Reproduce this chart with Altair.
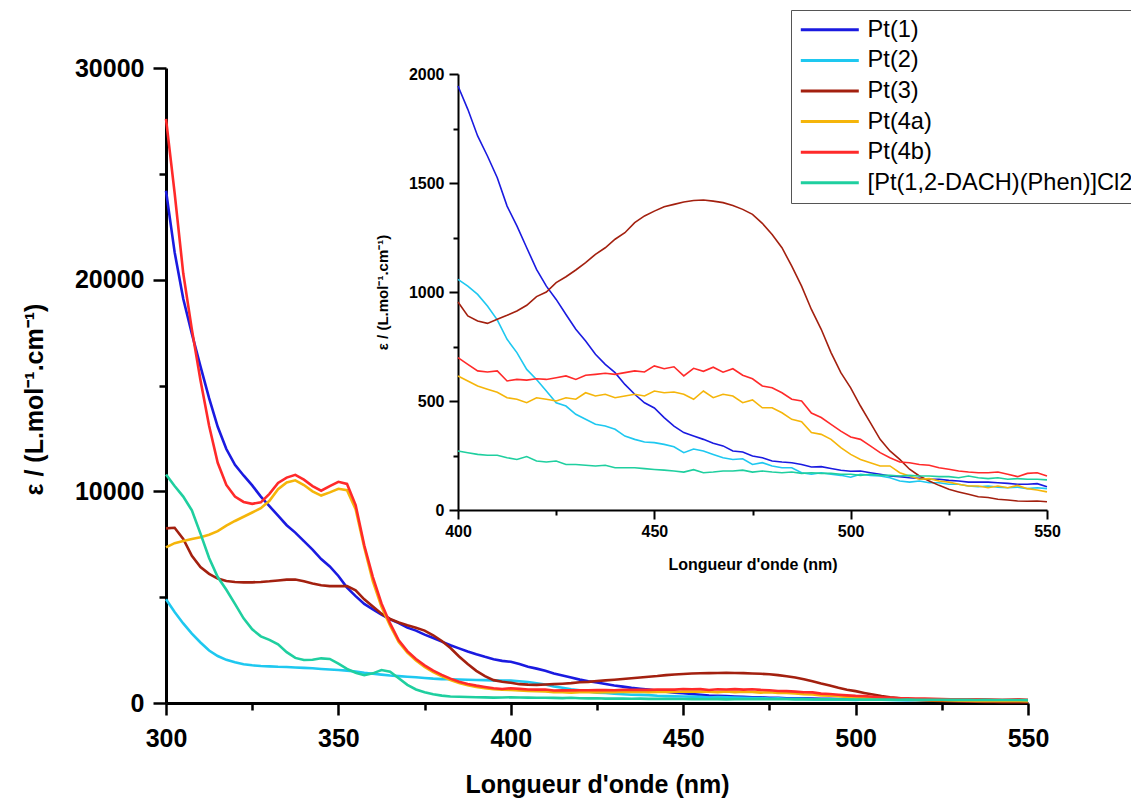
import altair as alt
import pandas as pd

wavelength = [300, 302.5, 305, 307.5, 310, 312.5, 315, 317.5, 320, 322.5,
              325, 327.5, 330, 332.5, 335, 337.5, 340, 342.5, 345, 347.5,
              350, 352.5, 355, 357.5, 360, 362.5, 365, 367.5, 370, 372.5,
              375, 377.5, 380, 382.5, 385, 387.5, 390, 392.5, 395, 397.5,
              400, 402.5, 405, 407.5, 410, 412.5, 415, 417.5, 420, 422.5,
              425, 427.5, 430, 432.5, 435, 437.5, 440, 442.5, 445, 447.5,
              450, 452.5, 455, 457.5, 460, 462.5, 465, 467.5, 470, 472.5,
              475, 477.5, 480, 482.5, 485, 487.5, 490, 492.5, 495, 497.5,
              500, 502.5, 505, 507.5, 510, 512.5, 515, 517.5, 520, 522.5,
              525, 527.5, 530, 532.5, 535, 537.5, 540, 542.5, 545, 547.5,
              550]

series_names = ["Pt(1)", "Pt(2)", "Pt(3)", "Pt(4a)", "Pt(4b)", "[Pt(1,2-DACH)(Phen)]Cl2"]
series_colors = ["#1a1ae0", "#1ec8f0", "#a3200f", "#f5b50a", "#ff2a2a", "#1fcf9f"]

pt1 = [24200, 21300, 19100, 17450, 15900, 14400, 13050, 12000, 11250, 10750,
       10280, 9750, 9300, 8850, 8400, 8050, 7650, 7250, 6800, 6450,
       6000, 5450, 5050, 4680, 4420, 4180, 3950, 3780, 3560, 3420,
       3230, 3070, 2900, 2730, 2580, 2430, 2300, 2180, 2070, 1990,
       1945, 1838, 1716, 1624, 1524, 1394, 1303, 1203, 1104, 1027,
       966, 897, 829, 775, 714, 668, 630, 576, 531, 492,
       468, 424, 385, 355, 339, 324, 306, 294, 271, 266,
       248, 240, 225, 220, 217, 209, 197, 199, 190, 182,
       178, 179, 171, 164, 156, 153, 148, 145, 141, 141,
       136, 133, 128, 128, 128, 125, 122, 118, 118, 121,
       107]

pt2 = [4900, 4300, 3760, 3280, 2860, 2480, 2220, 2040, 1920, 1830,
       1780, 1750, 1730, 1710, 1700, 1680, 1660, 1640, 1610, 1585,
       1560, 1530, 1490, 1430, 1380, 1340, 1300, 1270, 1240, 1215,
       1180, 1150, 1130, 1120, 1110, 1100, 1090, 1080, 1070, 1065,
       1058, 1027, 989, 936, 872, 783, 722, 645, 599, 546,
       492, 477, 439, 416, 393, 385, 370, 339, 324, 312,
       309, 301, 290, 263, 280, 271, 255, 240, 232, 235,
       209, 217, 202, 194, 194, 171, 164, 171, 164, 159,
       150, 164, 159, 156, 148, 133, 128, 133, 125, 125,
       118, 118, 110, 107, 110, 105, 102, 105, 98, 102,
       98]

pt3 = [8250, 8280, 7750, 6950, 6420, 6100, 5880, 5760, 5720, 5700,
       5700, 5720, 5750, 5790, 5830, 5830, 5750, 5650, 5560, 5520,
       5520, 5520, 5320, 4900, 4560, 4220, 3970, 3800, 3670, 3550,
       3420, 3200, 2930, 2600, 2200, 1840, 1520, 1270, 1080, 1000,
       954, 890, 867, 856, 875, 893, 913, 939, 979, 1000,
       1043, 1070, 1101, 1135, 1173, 1203, 1242, 1272, 1318, 1349,
       1371, 1391, 1402, 1413, 1420, 1422, 1417, 1410, 1397, 1379,
       1356, 1315, 1264, 1203, 1119, 1027, 920, 829, 722, 630,
       560, 477, 401, 324, 271, 232, 187, 156, 133, 113,
       95, 83, 72, 61, 57, 49, 46, 41, 40, 41,
       38]

pt4a = [7350, 7550, 7650, 7750, 7830, 7950, 8120, 8380, 8600, 8800,
        9000, 9200, 9550, 10100, 10420, 10520, 10300, 10000, 9800, 9950,
        10120, 10050, 9150, 7350, 5750, 4550, 3650, 2880, 2380, 2010,
        1700, 1460, 1260, 1080, 940, 840, 760, 700, 650, 625,
        615, 592, 569, 554, 540, 515, 508, 492, 515, 508,
        500, 515, 508, 538, 523, 531, 515, 523, 531, 523,
        546, 538, 541, 531, 508, 546, 515, 531, 523, 492,
        505, 469, 469, 446, 416, 405, 355, 347, 324, 286,
        255, 232, 217, 202, 202, 171, 156, 141, 144, 133,
        128, 118, 110, 110, 102, 110, 102, 113, 98, 92,
        83]

pt4b = [27600, 24100, 20300, 17650, 15250, 13100, 11350, 10300, 9750, 9500,
        9410, 9480, 9880, 10400, 10650, 10780, 10550, 10250, 10030, 10250,
        10450, 10350, 9350, 7450, 5950, 4700, 3760, 2960, 2450, 2080,
        1780, 1530, 1330, 1150, 1000, 900, 820, 760, 700, 660,
        699, 668, 638, 633, 638, 592, 599, 596, 602, 599,
        607, 615, 599, 618, 622, 627, 622, 630, 638, 633,
        661, 648, 657, 615, 650, 636, 655, 632, 648, 618,
        602, 569, 561, 538, 508, 500, 445, 424, 393, 362,
        335, 324, 294, 263, 240, 220, 217, 209, 205, 194,
        187, 179, 174, 171, 171, 174, 164, 153, 168, 171,
        156]

dach = [10800, 10250, 9750, 9100, 8000, 6850, 5950, 5350, 4680, 4000,
        3480, 3150, 2980, 2770, 2400, 2130, 2030, 2040, 2110, 2080,
        1860, 1610, 1430, 1310, 1400, 1560, 1480, 1170, 860, 640,
        510, 410, 350, 310, 295, 285, 275, 265, 255, 260,
        271, 263, 255, 251, 251, 240, 232, 245, 225, 220,
        225, 209, 209, 205, 202, 205, 194, 194, 194, 190,
        186, 183, 179, 174, 185, 171, 174, 179, 179, 183,
        174, 179, 174, 171, 174, 168, 171, 168, 168, 164,
        164, 159, 164, 159, 159, 156, 159, 156, 156, 153,
        153, 148, 156, 148, 144, 148, 141, 144, 141, 141,
        138]

main_x_ticks = [300, 350, 400, 450, 500, 550]
main_x_minor = [325, 375, 425, 475, 525]
main_y_ticks = [0, 10000, 20000, 30000]
main_y_minor = [5000, 15000, 25000]
inset_x_ticks = [400, 450, 500, 550]
inset_x_minor = [425, 475, 525]
inset_y_ticks = [0, 500, 1000, 1500, 2000]
inset_y_minor = [250, 750, 1250, 1750]

rows = []
for name, arr in zip(series_names, [pt1, pt2, pt3, pt4a, pt4b, dach]):
    for w, v in zip(wavelength, arr):
        rows.append({"wl": w, "val": v, "series": name})
df = pd.DataFrame(rows)

FONT = "Liberation Sans"
Y_TITLE = "ε / (L.mol⁻¹.cm⁻¹)"
X_TITLE = "Longueur d'onde (nm)"


def ax(**kw):
    base = dict(grid=False, domainColor="black", tickColor="black", labelColor="black",
                titleColor="black", labelFont=FONT, titleFont=FONT, labelFontWeight="bold",
                titleFontWeight="bold", labelFlush=False, labelOverlap=False)
    base.update(kw)
    return alt.Axis(**base)


def minor(**kw):
    base = dict(grid=False, labels=False, domain=False, tickColor="black", title=None)
    base.update(kw)
    return alt.Axis(**base)


color = alt.Color(
    "series:N",
    sort=series_names,
    scale=alt.Scale(domain=series_names, range=series_colors),
    legend=alt.Legend(
        orient="none", legendX=625, legendY=-58, title=None,
        symbolType="M-1,0H4.8", symbolSize=400, symbolStrokeWidth=3,
        labelOffset=45, labelFont=FONT, labelFontSize=23.6, labelColor="black",
        labelLimit=500, rowPadding=5.6, padding=8, strokeColor="#555555",
        fillColor="white",
    ),
)

main_xs = alt.Scale(domain=[300, 550], nice=False, zero=False)
main_ys = alt.Scale(domain=[0, 30000], nice=False)
inset_xs = alt.Scale(domain=[400, 550], nice=False, zero=False, range=[292, 881])
inset_ys = alt.Scale(domain=[0, 2000], nice=False, range=[442, 6])

main = alt.Chart(df).mark_line(strokeWidth=2.6).encode(
    x=alt.X("wl:Q", scale=main_xs, axis=ax(
        orient="bottom", values=main_x_ticks, format="d", labelFontSize=25,
        tickSize=12, tickWidth=2.5, domainWidth=3, labelPadding=11,
        title=X_TITLE, titleFontSize=25, titleY=81, titleBaseline="middle")),
    y=alt.Y("val:Q", scale=main_ys, axis=ax(
        orient="left", values=main_y_ticks, format="d", labelFontSize=25,
        tickSize=13, tickWidth=2.5, domainWidth=3, labelPadding=9,
        title=Y_TITLE, titleFontSize=25, titleX=-132, titleY=331,
        titleBaseline="middle")),
    color=color,
)

main_minor = alt.Chart(df).mark_line(opacity=0).encode(
    x=alt.X("wl:Q", scale=main_xs, axis=minor(orient="bottom", values=main_x_minor,
                                               tickSize=7, tickWidth=2.5)),
    y=alt.Y("val:Q", scale=main_ys, axis=minor(orient="left", values=main_y_minor,
                                                tickSize=7, tickWidth=2.5)),
    detail="series:N",
)

inset_data = alt.Chart(df).transform_filter(alt.datum.wl >= 400)

inset = inset_data.mark_line(strokeWidth=1.6).encode(
    x=alt.X("wl:Q", scale=inset_xs, axis=ax(
        orient="bottom", offset=-193, values=inset_x_ticks, format="d",
        labelFontSize=16, tickSize=9, tickWidth=2, domainWidth=2, labelPadding=4,
        title=X_TITLE, titleFontSize=16, titlePadding=17)),
    y=alt.Y("val:Q", scale=inset_ys, axis=ax(
        orient="left", offset=-292, values=inset_y_ticks, format="d",
        labelFontSize=16, tickSize=9, tickWidth=2, domainWidth=2, labelPadding=5,
        title=Y_TITLE, titleFontSize=15, titlePadding=18)),
    color=color,
)

inset_minor = inset_data.mark_line(opacity=0).encode(
    x=alt.X("wl:Q", scale=inset_xs, axis=minor(orient="bottom", offset=-193,
                                                values=inset_x_minor, tickSize=5, tickWidth=2)),
    y=alt.Y("val:Q", scale=inset_ys, axis=minor(orient="left", offset=-292,
                                                values=inset_y_minor, tickSize=5, tickWidth=2)),
    detail="series:N",
)

chart = (
    alt.layer(main, main_minor, inset, inset_minor)
    .resolve_scale(x="independent", y="independent", color="shared")
    .resolve_axis(x="independent", y="independent")
    .properties(
        width=862, height=635,
        autosize=alt.AutoSizeParams(type="none"),
        padding={"left": 158, "top": 60, "right": 103, "bottom": 95},
        background="white",
    )
    .configure_view(stroke=None)
)

chart.save("out.html", embed_options={"renderer": "svg", "actions": False})
